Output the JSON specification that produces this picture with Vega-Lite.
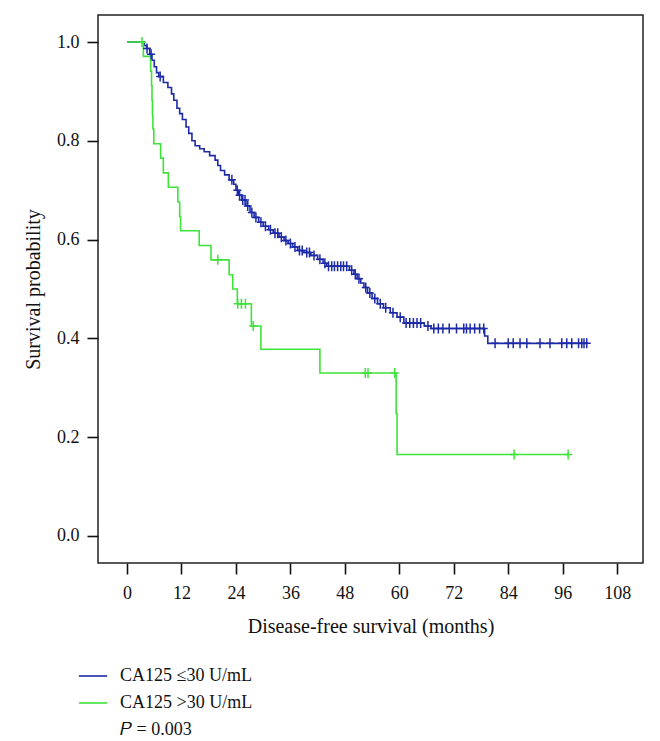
{
  "$schema": "https://vega.github.io/schema/vega-lite/v6.json",
  "autosize": "none",
  "width": 545,
  "height": 548,
  "padding": {"left": 98, "top": 15, "right": 17, "bottom": 178},
  "background": "white",
  "config": {
    "font": "Liberation Serif",
    "view": {"stroke": "#222222", "strokeWidth": 1.5},
    "axis": {"domain": false, "grid": false, "tickColor": "#111111", "tickWidth": 1.6, "tickSize": 11, "labelFont": "Liberation Serif", "labelFontSize": 18, "labelColor": "#111111", "titleFont": "Liberation Serif", "titleFontSize": 20, "titleFontWeight": "normal", "titleColor": "#111111"}
  },
  "datasets": {
    "km": [
      {"group": "CA125 ≤30 U/mL", "kind": "step", "month": 0, "surv": 1.0},
      {"group": "CA125 ≤30 U/mL", "kind": "step", "month": 3.8, "surv": 0.993},
      {"group": "CA125 ≤30 U/mL", "kind": "step", "month": 4.3, "surv": 0.987},
      {"group": "CA125 ≤30 U/mL", "kind": "step", "month": 5.0, "surv": 0.975},
      {"group": "CA125 ≤30 U/mL", "kind": "step", "month": 5.5, "surv": 0.963},
      {"group": "CA125 ≤30 U/mL", "kind": "step", "month": 6.0, "surv": 0.950},
      {"group": "CA125 ≤30 U/mL", "kind": "step", "month": 6.5, "surv": 0.938},
      {"group": "CA125 ≤30 U/mL", "kind": "step", "month": 7.0, "surv": 0.930},
      {"group": "CA125 ≤30 U/mL", "kind": "step", "month": 8.0, "surv": 0.918},
      {"group": "CA125 ≤30 U/mL", "kind": "step", "month": 9.0, "surv": 0.908},
      {"group": "CA125 ≤30 U/mL", "kind": "step", "month": 9.8, "surv": 0.895},
      {"group": "CA125 ≤30 U/mL", "kind": "step", "month": 10.3, "surv": 0.882},
      {"group": "CA125 ≤30 U/mL", "kind": "step", "month": 11.0, "surv": 0.866},
      {"group": "CA125 ≤30 U/mL", "kind": "step", "month": 11.6, "surv": 0.855},
      {"group": "CA125 ≤30 U/mL", "kind": "step", "month": 12.2, "surv": 0.843},
      {"group": "CA125 ≤30 U/mL", "kind": "step", "month": 13.0, "surv": 0.828},
      {"group": "CA125 ≤30 U/mL", "kind": "step", "month": 13.6, "surv": 0.815},
      {"group": "CA125 ≤30 U/mL", "kind": "step", "month": 14.3, "surv": 0.800},
      {"group": "CA125 ≤30 U/mL", "kind": "step", "month": 15.0, "surv": 0.790},
      {"group": "CA125 ≤30 U/mL", "kind": "step", "month": 16.0, "surv": 0.784},
      {"group": "CA125 ≤30 U/mL", "kind": "step", "month": 17.0, "surv": 0.778},
      {"group": "CA125 ≤30 U/mL", "kind": "step", "month": 18.2, "surv": 0.770},
      {"group": "CA125 ≤30 U/mL", "kind": "step", "month": 19.4, "surv": 0.761},
      {"group": "CA125 ≤30 U/mL", "kind": "step", "month": 20.0, "surv": 0.750},
      {"group": "CA125 ≤30 U/mL", "kind": "step", "month": 20.6, "surv": 0.740},
      {"group": "CA125 ≤30 U/mL", "kind": "step", "month": 21.5, "surv": 0.731},
      {"group": "CA125 ≤30 U/mL", "kind": "step", "month": 22.5, "surv": 0.721},
      {"group": "CA125 ≤30 U/mL", "kind": "step", "month": 23.5, "surv": 0.712},
      {"group": "CA125 ≤30 U/mL", "kind": "step", "month": 24.0, "surv": 0.700},
      {"group": "CA125 ≤30 U/mL", "kind": "step", "month": 24.6, "surv": 0.690},
      {"group": "CA125 ≤30 U/mL", "kind": "step", "month": 25.3, "surv": 0.680},
      {"group": "CA125 ≤30 U/mL", "kind": "step", "month": 26.2, "surv": 0.668},
      {"group": "CA125 ≤30 U/mL", "kind": "step", "month": 27.1, "surv": 0.655},
      {"group": "CA125 ≤30 U/mL", "kind": "step", "month": 28.0, "surv": 0.645},
      {"group": "CA125 ≤30 U/mL", "kind": "step", "month": 29.0, "surv": 0.635},
      {"group": "CA125 ≤30 U/mL", "kind": "step", "month": 30.0, "surv": 0.627},
      {"group": "CA125 ≤30 U/mL", "kind": "step", "month": 31.2, "surv": 0.620},
      {"group": "CA125 ≤30 U/mL", "kind": "step", "month": 32.2, "surv": 0.613},
      {"group": "CA125 ≤30 U/mL", "kind": "step", "month": 33.5, "surv": 0.605},
      {"group": "CA125 ≤30 U/mL", "kind": "step", "month": 34.6, "surv": 0.598},
      {"group": "CA125 ≤30 U/mL", "kind": "step", "month": 35.5, "surv": 0.592},
      {"group": "CA125 ≤30 U/mL", "kind": "step", "month": 36.5, "surv": 0.585},
      {"group": "CA125 ≤30 U/mL", "kind": "step", "month": 37.6, "surv": 0.578},
      {"group": "CA125 ≤30 U/mL", "kind": "step", "month": 39.0, "surv": 0.574},
      {"group": "CA125 ≤30 U/mL", "kind": "step", "month": 40.5, "surv": 0.568},
      {"group": "CA125 ≤30 U/mL", "kind": "step", "month": 42.0, "surv": 0.560},
      {"group": "CA125 ≤30 U/mL", "kind": "step", "month": 43.2, "surv": 0.552},
      {"group": "CA125 ≤30 U/mL", "kind": "step", "month": 44.0, "surv": 0.546},
      {"group": "CA125 ≤30 U/mL", "kind": "step", "month": 49.0, "surv": 0.538},
      {"group": "CA125 ≤30 U/mL", "kind": "step", "month": 50.0, "surv": 0.530},
      {"group": "CA125 ≤30 U/mL", "kind": "step", "month": 50.7, "surv": 0.521},
      {"group": "CA125 ≤30 U/mL", "kind": "step", "month": 51.5, "surv": 0.512},
      {"group": "CA125 ≤30 U/mL", "kind": "step", "month": 52.2, "surv": 0.503},
      {"group": "CA125 ≤30 U/mL", "kind": "step", "month": 53.0, "surv": 0.492},
      {"group": "CA125 ≤30 U/mL", "kind": "step", "month": 54.0, "surv": 0.481},
      {"group": "CA125 ≤30 U/mL", "kind": "step", "month": 55.2, "surv": 0.470},
      {"group": "CA125 ≤30 U/mL", "kind": "step", "month": 56.5, "surv": 0.462},
      {"group": "CA125 ≤30 U/mL", "kind": "step", "month": 58.0, "surv": 0.452},
      {"group": "CA125 ≤30 U/mL", "kind": "step", "month": 59.5, "surv": 0.443},
      {"group": "CA125 ≤30 U/mL", "kind": "step", "month": 61.0, "surv": 0.431},
      {"group": "CA125 ≤30 U/mL", "kind": "step", "month": 65.5, "surv": 0.425},
      {"group": "CA125 ≤30 U/mL", "kind": "step", "month": 67.0, "surv": 0.420},
      {"group": "CA125 ≤30 U/mL", "kind": "step", "month": 78.8, "surv": 0.405},
      {"group": "CA125 ≤30 U/mL", "kind": "step", "month": 79.5, "surv": 0.390},
      {"group": "CA125 ≤30 U/mL", "kind": "step", "month": 101.6, "surv": 0.390},
      {"group": "CA125 ≤30 U/mL", "kind": "censor", "month": 4.4, "surv": 0.987},
      {"group": "CA125 ≤30 U/mL", "kind": "censor", "month": 5.3, "surv": 0.975},
      {"group": "CA125 ≤30 U/mL", "kind": "censor", "month": 7.3, "surv": 0.930},
      {"group": "CA125 ≤30 U/mL", "kind": "censor", "month": 23.1, "surv": 0.721},
      {"group": "CA125 ≤30 U/mL", "kind": "censor", "month": 24.3, "surv": 0.700},
      {"group": "CA125 ≤30 U/mL", "kind": "censor", "month": 24.8, "surv": 0.690},
      {"group": "CA125 ≤30 U/mL", "kind": "censor", "month": 25.5, "surv": 0.680},
      {"group": "CA125 ≤30 U/mL", "kind": "censor", "month": 26.0, "surv": 0.680},
      {"group": "CA125 ≤30 U/mL", "kind": "censor", "month": 26.6, "surv": 0.668},
      {"group": "CA125 ≤30 U/mL", "kind": "censor", "month": 27.5, "surv": 0.655},
      {"group": "CA125 ≤30 U/mL", "kind": "censor", "month": 28.4, "surv": 0.645},
      {"group": "CA125 ≤30 U/mL", "kind": "censor", "month": 29.5, "surv": 0.635},
      {"group": "CA125 ≤30 U/mL", "kind": "censor", "month": 30.5, "surv": 0.627},
      {"group": "CA125 ≤30 U/mL", "kind": "censor", "month": 31.6, "surv": 0.620},
      {"group": "CA125 ≤30 U/mL", "kind": "censor", "month": 32.6, "surv": 0.613},
      {"group": "CA125 ≤30 U/mL", "kind": "censor", "month": 33.2, "surv": 0.613},
      {"group": "CA125 ≤30 U/mL", "kind": "censor", "month": 34.0, "surv": 0.605},
      {"group": "CA125 ≤30 U/mL", "kind": "censor", "month": 35.0, "surv": 0.598},
      {"group": "CA125 ≤30 U/mL", "kind": "censor", "month": 36.0, "surv": 0.592},
      {"group": "CA125 ≤30 U/mL", "kind": "censor", "month": 37.0, "surv": 0.585},
      {"group": "CA125 ≤30 U/mL", "kind": "censor", "month": 38.0, "surv": 0.578},
      {"group": "CA125 ≤30 U/mL", "kind": "censor", "month": 38.6, "surv": 0.578},
      {"group": "CA125 ≤30 U/mL", "kind": "censor", "month": 39.6, "surv": 0.574},
      {"group": "CA125 ≤30 U/mL", "kind": "censor", "month": 40.2, "surv": 0.574},
      {"group": "CA125 ≤30 U/mL", "kind": "censor", "month": 41.2, "surv": 0.568},
      {"group": "CA125 ≤30 U/mL", "kind": "censor", "month": 42.5, "surv": 0.560},
      {"group": "CA125 ≤30 U/mL", "kind": "censor", "month": 43.6, "surv": 0.552},
      {"group": "CA125 ≤30 U/mL", "kind": "censor", "month": 44.4, "surv": 0.546},
      {"group": "CA125 ≤30 U/mL", "kind": "censor", "month": 45.1, "surv": 0.546},
      {"group": "CA125 ≤30 U/mL", "kind": "censor", "month": 45.7, "surv": 0.546},
      {"group": "CA125 ≤30 U/mL", "kind": "censor", "month": 46.4, "surv": 0.546},
      {"group": "CA125 ≤30 U/mL", "kind": "censor", "month": 47.1, "surv": 0.546},
      {"group": "CA125 ≤30 U/mL", "kind": "censor", "month": 47.7, "surv": 0.546},
      {"group": "CA125 ≤30 U/mL", "kind": "censor", "month": 48.4, "surv": 0.546},
      {"group": "CA125 ≤30 U/mL", "kind": "censor", "month": 49.5, "surv": 0.538},
      {"group": "CA125 ≤30 U/mL", "kind": "censor", "month": 50.3, "surv": 0.530},
      {"group": "CA125 ≤30 U/mL", "kind": "censor", "month": 51.1, "surv": 0.521},
      {"group": "CA125 ≤30 U/mL", "kind": "censor", "month": 52.6, "surv": 0.503},
      {"group": "CA125 ≤30 U/mL", "kind": "censor", "month": 53.5, "surv": 0.492},
      {"group": "CA125 ≤30 U/mL", "kind": "censor", "month": 54.6, "surv": 0.481},
      {"group": "CA125 ≤30 U/mL", "kind": "censor", "month": 55.8, "surv": 0.470},
      {"group": "CA125 ≤30 U/mL", "kind": "censor", "month": 57.0, "surv": 0.462},
      {"group": "CA125 ≤30 U/mL", "kind": "censor", "month": 58.6, "surv": 0.452},
      {"group": "CA125 ≤30 U/mL", "kind": "censor", "month": 60.2, "surv": 0.443},
      {"group": "CA125 ≤30 U/mL", "kind": "censor", "month": 61.5, "surv": 0.431},
      {"group": "CA125 ≤30 U/mL", "kind": "censor", "month": 62.3, "surv": 0.431},
      {"group": "CA125 ≤30 U/mL", "kind": "censor", "month": 63.1, "surv": 0.431},
      {"group": "CA125 ≤30 U/mL", "kind": "censor", "month": 63.9, "surv": 0.431},
      {"group": "CA125 ≤30 U/mL", "kind": "censor", "month": 64.7, "surv": 0.431},
      {"group": "CA125 ≤30 U/mL", "kind": "censor", "month": 66.3, "surv": 0.425},
      {"group": "CA125 ≤30 U/mL", "kind": "censor", "month": 67.6, "surv": 0.420},
      {"group": "CA125 ≤30 U/mL", "kind": "censor", "month": 68.6, "surv": 0.420},
      {"group": "CA125 ≤30 U/mL", "kind": "censor", "month": 69.6, "surv": 0.420},
      {"group": "CA125 ≤30 U/mL", "kind": "censor", "month": 71.0, "surv": 0.420},
      {"group": "CA125 ≤30 U/mL", "kind": "censor", "month": 72.6, "surv": 0.420},
      {"group": "CA125 ≤30 U/mL", "kind": "censor", "month": 74.2, "surv": 0.420},
      {"group": "CA125 ≤30 U/mL", "kind": "censor", "month": 74.8, "surv": 0.420},
      {"group": "CA125 ≤30 U/mL", "kind": "censor", "month": 75.6, "surv": 0.420},
      {"group": "CA125 ≤30 U/mL", "kind": "censor", "month": 76.6, "surv": 0.420},
      {"group": "CA125 ≤30 U/mL", "kind": "censor", "month": 77.7, "surv": 0.420},
      {"group": "CA125 ≤30 U/mL", "kind": "censor", "month": 78.6, "surv": 0.420},
      {"group": "CA125 ≤30 U/mL", "kind": "censor", "month": 81.1, "surv": 0.390},
      {"group": "CA125 ≤30 U/mL", "kind": "censor", "month": 84.0, "surv": 0.390},
      {"group": "CA125 ≤30 U/mL", "kind": "censor", "month": 85.1, "surv": 0.390},
      {"group": "CA125 ≤30 U/mL", "kind": "censor", "month": 86.6, "surv": 0.390},
      {"group": "CA125 ≤30 U/mL", "kind": "censor", "month": 88.1, "surv": 0.390},
      {"group": "CA125 ≤30 U/mL", "kind": "censor", "month": 91.0, "surv": 0.390},
      {"group": "CA125 ≤30 U/mL", "kind": "censor", "month": 93.2, "surv": 0.390},
      {"group": "CA125 ≤30 U/mL", "kind": "censor", "month": 95.8, "surv": 0.390},
      {"group": "CA125 ≤30 U/mL", "kind": "censor", "month": 96.9, "surv": 0.390},
      {"group": "CA125 ≤30 U/mL", "kind": "censor", "month": 98.0, "surv": 0.390},
      {"group": "CA125 ≤30 U/mL", "kind": "censor", "month": 99.5, "surv": 0.390},
      {"group": "CA125 ≤30 U/mL", "kind": "censor", "month": 100.2, "surv": 0.390},
      {"group": "CA125 ≤30 U/mL", "kind": "censor", "month": 100.7, "surv": 0.390},
      {"group": "CA125 ≤30 U/mL", "kind": "censor", "month": 101.3, "surv": 0.390},
      {"group": "CA125 >30 U/mL", "kind": "step", "month": 0, "surv": 1.0},
      {"group": "CA125 >30 U/mL", "kind": "step", "month": 3.6, "surv": 0.971},
      {"group": "CA125 >30 U/mL", "kind": "step", "month": 5.2, "surv": 0.941},
      {"group": "CA125 >30 U/mL", "kind": "step", "month": 5.4, "surv": 0.912},
      {"group": "CA125 >30 U/mL", "kind": "step", "month": 5.5, "surv": 0.882},
      {"group": "CA125 >30 U/mL", "kind": "step", "month": 5.6, "surv": 0.853},
      {"group": "CA125 >30 U/mL", "kind": "step", "month": 5.7, "surv": 0.824},
      {"group": "CA125 >30 U/mL", "kind": "step", "month": 5.9, "surv": 0.794},
      {"group": "CA125 >30 U/mL", "kind": "step", "month": 7.4, "surv": 0.765},
      {"group": "CA125 >30 U/mL", "kind": "step", "month": 8.0, "surv": 0.735},
      {"group": "CA125 >30 U/mL", "kind": "step", "month": 9.1, "surv": 0.706},
      {"group": "CA125 >30 U/mL", "kind": "step", "month": 11.2, "surv": 0.676},
      {"group": "CA125 >30 U/mL", "kind": "step", "month": 11.6, "surv": 0.647},
      {"group": "CA125 >30 U/mL", "kind": "step", "month": 11.8, "surv": 0.618},
      {"group": "CA125 >30 U/mL", "kind": "step", "month": 15.9, "surv": 0.588},
      {"group": "CA125 >30 U/mL", "kind": "step", "month": 18.5, "surv": 0.559},
      {"group": "CA125 >30 U/mL", "kind": "step", "month": 22.5, "surv": 0.529},
      {"group": "CA125 >30 U/mL", "kind": "step", "month": 23.3, "surv": 0.500},
      {"group": "CA125 >30 U/mL", "kind": "step", "month": 24.3, "surv": 0.470},
      {"group": "CA125 >30 U/mL", "kind": "step", "month": 27.4, "surv": 0.425},
      {"group": "CA125 >30 U/mL", "kind": "step", "month": 29.5, "surv": 0.378},
      {"group": "CA125 >30 U/mL", "kind": "step", "month": 42.5, "surv": 0.330},
      {"group": "CA125 >30 U/mL", "kind": "step", "month": 59.3, "surv": 0.248},
      {"group": "CA125 >30 U/mL", "kind": "step", "month": 59.5, "surv": 0.165},
      {"group": "CA125 >30 U/mL", "kind": "step", "month": 97.3, "surv": 0.165},
      {"group": "CA125 >30 U/mL", "kind": "censor", "month": 3.3, "surv": 1.0},
      {"group": "CA125 >30 U/mL", "kind": "censor", "month": 20.0, "surv": 0.559},
      {"group": "CA125 >30 U/mL", "kind": "censor", "month": 24.4, "surv": 0.470},
      {"group": "CA125 >30 U/mL", "kind": "censor", "month": 25.2, "surv": 0.470},
      {"group": "CA125 >30 U/mL", "kind": "censor", "month": 26.1, "surv": 0.470},
      {"group": "CA125 >30 U/mL", "kind": "censor", "month": 27.8, "surv": 0.425},
      {"group": "CA125 >30 U/mL", "kind": "censor", "month": 52.5, "surv": 0.330},
      {"group": "CA125 >30 U/mL", "kind": "censor", "month": 53.1, "surv": 0.330},
      {"group": "CA125 >30 U/mL", "kind": "censor", "month": 59.0, "surv": 0.330},
      {"group": "CA125 >30 U/mL", "kind": "censor", "month": 85.3, "surv": 0.165},
      {"group": "CA125 >30 U/mL", "kind": "censor", "month": 97.2, "surv": 0.165}
    ]
  },
  "data": {"name": "km"},
  "layer": [
    {
      "transform": [{"filter": "datum.kind === 'step'"}],
      "mark": {"type": "line", "interpolate": "step-after", "strokeWidth": 1.6, "clip": true},
      "encoding": {
        "x": {"field": "month", "type": "quantitative", "scale": {"domain": [-6.4, 113.7], "nice": false, "zero": false}, "axis": {"values": [0, 12, 24, 36, 48, 60, 72, 84, 96, 108], "title": "Disease-free survival (months)", "labelPadding": 10, "titlePadding": 14}},
        "y": {"field": "surv", "type": "quantitative", "scale": {"domain": [-0.0547, 1.0547], "nice": false, "zero": false}, "axis": {"values": [0, 0.2, 0.4, 0.6, 0.8, 1.0], "format": ".1f", "title": "Survival probability", "labelPadding": 8, "titlePadding": 13}},
        "color": {"field": "group", "type": "nominal", "scale": {"domain": ["CA125 ≤30 U/mL", "CA125 >30 U/mL", "𝑃 = 0.003"], "range": ["#1c2aa8", "#3ee33a", "#ffffff"]}, "legend": {"title": null, "orient": "none", "legendX": -20, "legendY": 646, "symbolType": "stroke", "symbolSize": 800, "symbolStrokeWidth": 1.6, "labelFont": "Liberation Serif", "labelFontSize": 18, "labelColor": "#111111", "labelOffset": 12, "rowPadding": 3, "labelLimit": 400}}
      }
    },
    {
      "transform": [{"filter": "datum.kind === 'censor'"}],
      "mark": {"type": "point", "shape": "M-0.8,0H0.8M0,-1V1", "size": 100, "filled": false, "strokeWidth": 1.5, "opacity": 1},
      "encoding": {
        "x": {"field": "month", "type": "quantitative"},
        "y": {"field": "surv", "type": "quantitative"},
        "color": {"field": "group", "type": "nominal", "legend": null}
      }
    }
  ]
}
